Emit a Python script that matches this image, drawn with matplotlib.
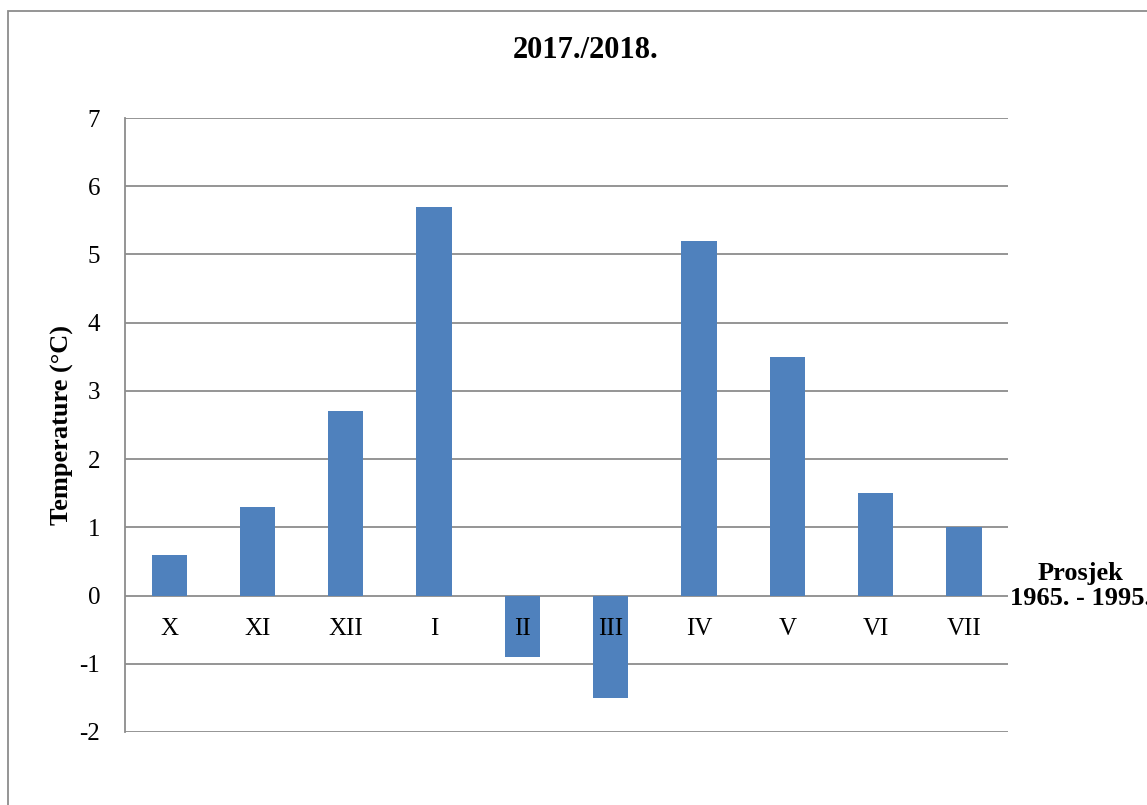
import matplotlib
matplotlib.use("Agg")
import matplotlib.pyplot as plt
from matplotlib.patches import Rectangle

months = ["X", "XI", "XII", "I", "II", "III", "IV", "V", "VI", "VII"]
values = [0.6, 1.3, 2.7, 5.7, -0.9, -1.5, 5.2, 3.5, 1.5, 1.0]
yticks = [-2, -1, 0, 1, 2, 3, 4, 5, 6, 7]

plt.rcParams['font.family'] = ['Liberation Serif', 'DejaVu Serif']

fig = plt.figure(figsize=(11.47, 8.05), dpi=100)
ax = fig.add_axes([0.109, 0.0907, 0.770, 0.7627])

grid_c = '#8c8c8c'
x = list(range(len(months)))
ax.bar(x, values, width=0.4, color='#4F81BD', zorder=2)

ax.set_xlim(-0.5, len(months) - 0.5)
ax.set_ylim(-2, 7)
ax.set_yticks(yticks)
ax.set_yticklabels([str(v) for v in yticks])
ax.yaxis.grid(True, color=grid_c, linewidth=1.3)
ax.yaxis.set_zorder(0.5)

ax.set_xticks(x)
ax.set_xticklabels(months)
ax.xaxis.set_zorder(4)
ax.spines['bottom'].set_position(('data', 0))
ax.spines['bottom'].set_visible(False)
ax.spines['top'].set_visible(False)
ax.spines['right'].set_visible(False)
ax.spines['left'].set_color(grid_c)
ax.spines['left'].set_linewidth(1.3)
ax.tick_params(axis='x', length=0, pad=16, labelsize=18)
ax.tick_params(axis='y', length=0, pad=18, labelsize=18)

ax.set_ylabel("Temperature (°C)", fontsize=19, fontweight='bold', labelpad=4)

fig.text(586 / 1147, 1 - 50 / 805, "2017./2018.", ha='center', va='center',
         fontsize=22, fontweight='bold')
fig.text(1080 / 1147, 1 - 586 / 805, "Prosjek\n1965. - 1995.", ha='center', va='center',
         fontsize=19, fontweight='bold', linespacing=1.15)

frame = Rectangle((8 / 1147, -0.1), 1.2, 1 - 11 / 805 + 0.1, transform=fig.transFigure,
                  fill=False, edgecolor=grid_c, linewidth=1.3)
fig.patches.append(frame)

fig.savefig("out.png", dpi=100)
